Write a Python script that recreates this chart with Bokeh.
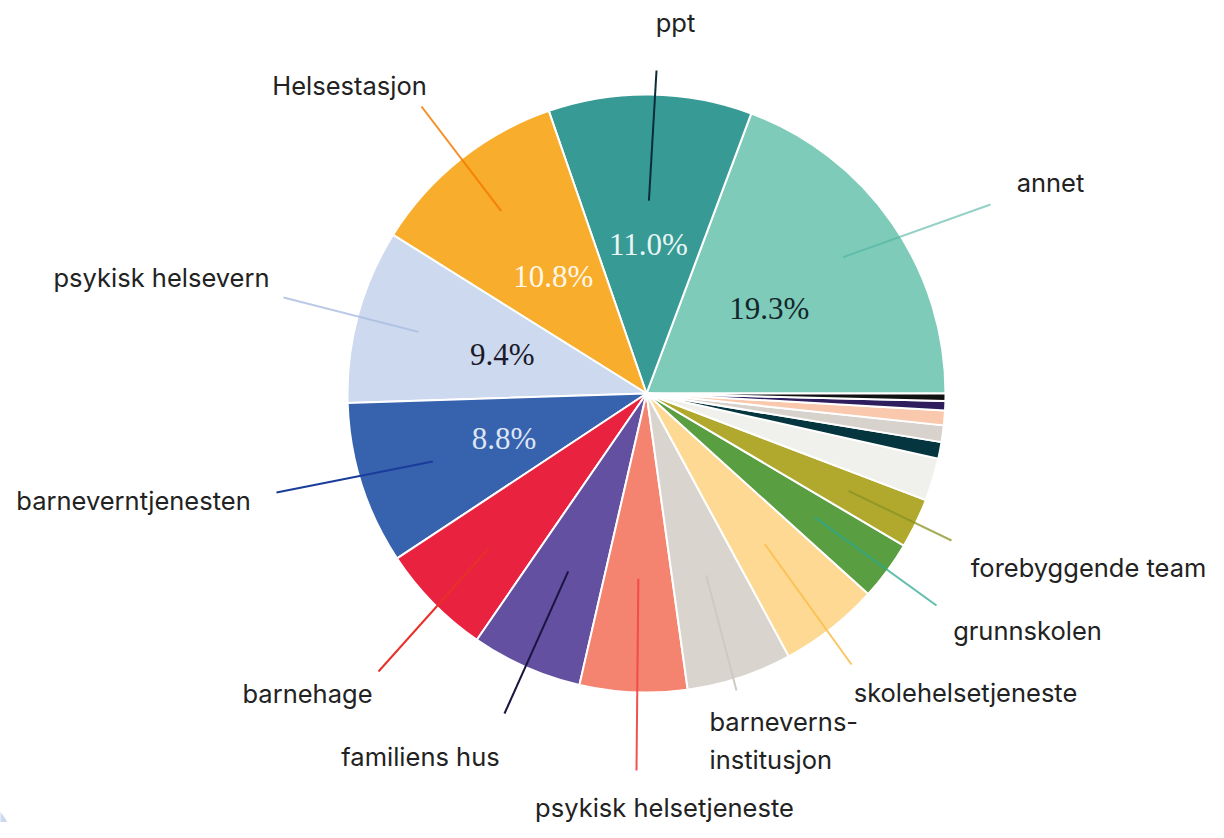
import numpy as np
from bokeh.plotting import figure
from bokeh.models import Range1d
from bokeh.core.properties import value
from bokeh.embed import file_html
from bokeh.resources import INLINE

# ---------------- data ----------------
categories = ["annet", "ppt", "Helsestasjon", "psykisk helsevern", "barneverntjenesten",
              "barnehage", "familiens hus", "psykisk helsetjeneste", "barneverns-\ninstitusjon",
              "skolehelsetjeneste", "grunnskolen", "forebyggende team",
              "andre 1", "andre 2", "andre 3", "andre 4", "andre 5", "andre 6"]
shares = [19.3, 11.0, 10.8, 9.4, 8.8,
          6.1, 6.0, 5.8, 5.7,
          5.4, 3.2, 2.7,
          2.3, 0.9, 0.9, 0.8, 0.5, 0.4]
slice_colors = ["#7ecbba", "#379a94", "#f9ad2c", "#cdd9ee", "#3762ae",
                "#e8223f", "#6450a0", "#f4836f", "#dad4cf",
                "#fdd993", "#5a9e42", "#b0a92e",
                "#f0f0ec", "#053640", "#d8d2cd", "#f9c8ad", "#2e1e5e", "#111111"]

pct_labels = ["19.3%", "11.0%", "10.8%", "9.4%", "8.8%"]
pct_colors = ["#13262a", "#e9f5f4", "#fff8ea", "#1a1a2a", "#dde6f5"]

# outer labels (first 12 categories)
line_colors = ["#4fb3a0", "#0b2d3a", "#f57a00", "#a8bce0", "#1a3c9a",
               "#e8302a", "#1a1440", "#f04848", "#cfc9c4",
               "#fbbf50", "#2aa890", "#8a9020"]
line_alpha = [0.6, 1.0, 0.85, 0.8, 1.0, 1.0, 1.0, 0.95, 1.0, 0.9, 0.75, 0.75]

# ---------------- layout (picture coordinates) ----------------
W, H = 1224, 838
CX, CY, R = 646, 393, 299
inner_frac = [0.80, 0.645, 0.78, 0.79, 0.75, 0.74, 0.65, 0.62, 0.64, 0.64, 0.70, 0.75]
line_end = [(990, 204), (656, 70), (421, 106), (283, 297), (276, 492),
            (378, 671), (504, 713), (636, 770), (736, 690),
            (851, 664), (936, 605), (951, 540)]
label_pos = [(1050, 182), (675, 22), (349, 85), (161, 277), (133, 500),
             (307, 693), (420, 756), (664, 807), (709, 740),
             (965, 692), (1027, 630), (1088, 567)]
label_align = ["center"] * 8 + ["left"] + ["center"] * 3


def fy(y):
    return H - y


p = figure(width=1208, height=822, output_backend="svg", toolbar_location=None,
           x_range=Range1d(0, 1208), y_range=Range1d(fy(822), fy(0)),
           min_border=0)
p.axis.visible = False
p.grid.visible = False
p.outline_line_color = None
p.background_fill_color = "white"

# decorative circle in the corner
p.scatter([-46], [fy(850)], size=120, marker="circle", color="#cdd9ee", line_color=None)

vals = np.array(shares, dtype=float)
vals = vals / vals.sum() * 2 * np.pi
ends = np.cumsum(vals)
starts = ends - vals
mids = (starts + ends) / 2

p.wedge(x=CX, y=fy(CY), radius=R, start_angle=list(starts), end_angle=list(ends),
        direction="anticlock",
        fill_color=slice_colors, line_color="white", line_width=2)

# leader lines
n = len(line_end)
mr = mids[:n]
x0 = CX + np.array(inner_frac) * R * np.cos(mr)
y0 = fy(CY) + np.array(inner_frac) * R * np.sin(mr)
x1 = [e[0] for e in line_end]
y1 = [fy(e[1]) for e in line_end]
p.segment(x0=list(x0), y0=list(y0), x1=x1, y1=y1, line_color=line_colors,
          line_alpha=line_alpha, line_width=2)

# percent labels inside the largest slices
k = len(pct_labels)
pr = mids[:k]
px = CX + 0.5 * R * np.cos(pr)
py = fy(CY) + 0.5 * R * np.sin(pr)
p.text(x=list(px), y=list(py), text=pct_labels, text_color=pct_colors,
       text_font=value("Liberation Serif"), text_font_size=value("31px"),
       text_align="center", text_baseline="middle")

# outer category labels
for i in range(n):
    lx, ly = label_pos[i]
    p.text(x=[lx], y=[fy(ly)], text=[categories[i]], text_color="#222222",
           text_font=value("Inter"), text_font_size=value("25.5px"),
           text_align=label_align[i], text_baseline="middle",
           text_line_height=1.25)

open("out.html", "w").write(file_html(p, INLINE))
